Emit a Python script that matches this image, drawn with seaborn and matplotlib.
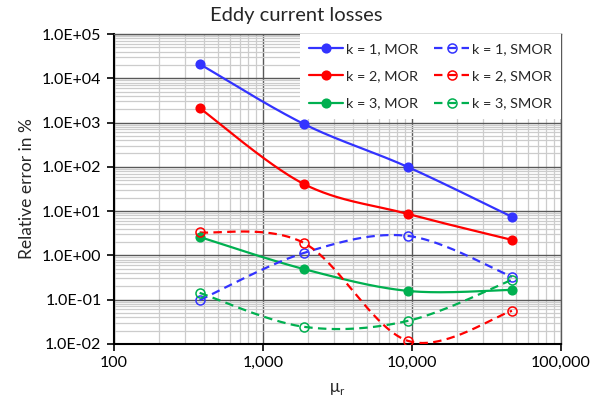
import numpy as np
import pandas as pd
import matplotlib
matplotlib.use("Agg")
import matplotlib.pyplot as plt
import seaborn as sns
from matplotlib.lines import Line2D
from matplotlib.ticker import FixedLocator, FuncFormatter, LogLocator, NullFormatter

# ---- data ----
mu_r = [376, 1880, 9400, 47000]
mor_k1 = [21000, 930, 99, 7.4]
mor_k2 = [2130, 41, 8.6, 2.23]
mor_k3 = [2.6, 0.49, 0.157, 0.166]
smor_k1 = [0.097, 1.13, 2.75, 0.326]
smor_k2 = [3.3, 1.91, 0.0117, 0.0557]
smor_k3 = [0.142, 0.0243, 0.033, 0.28]
labels = ["k = 1, MOR", "k = 2, MOR", "k = 3, MOR",
          "k = 1, SMOR", "k = 2, SMOR", "k = 3, SMOR"]
x_ticks = [100, 1000, 10000, 100000]
y_ticks = [1e-2, 1e-1, 1e0, 1e1, 1e2, 1e3, 1e4, 1e5]

BLUE, RED, GREEN = "#3333FF", "#FF0000", "#00B050"
series = [
    (mor_k1, BLUE, False), (mor_k2, RED, False), (mor_k3, GREEN, False),
    (smor_k1, BLUE, True), (smor_k2, RED, True), (smor_k3, GREEN, True),
]

sns.set_style("white")
plt.rcParams["font.family"] = ["Lato", "DejaVu Sans"]


def smooth(xs, ys, n=60):
    """Excel-like smoothed line (Catmull-Rom Bezier) in log-log space."""
    P = np.column_stack([np.log10(xs), np.log10(ys)])
    m = len(P)
    out = []
    for i in range(m - 1):
        p0 = P[max(i - 1, 0)]
        p1, p2 = P[i], P[i + 1]
        p3 = P[min(i + 2, m - 1)]
        c1 = p1 + (p2 - p0) / 6.0
        c2 = p2 - (p3 - p1) / 6.0
        t = np.linspace(0, 1, n)[:, None]
        seg = ((1 - t) ** 3) * p1 + 3 * ((1 - t) ** 2) * t * c1 + 3 * (1 - t) * t ** 2 * c2 + t ** 3 * p2
        out.append(seg if i == 0 else seg[1:])
    s = np.vstack(out)
    return 10 ** s[:, 0], 10 ** s[:, 1]


DASH = (0, (3.8, 2.4))

fig = plt.figure(figsize=(6.03, 4.05), dpi=100)
ax = fig.add_axes([0.189, 0.151, 0.741, 0.765])
ax.set_xscale("log")
ax.set_yscale("log")

handles = []
for (vals, col, dashed), lab in zip(series, labels):
    sx, sy = smooth(mu_r, vals)
    ls = DASH if dashed else "-"
    sns.lineplot(x=sx, y=sy, ax=ax, color=col, linestyle=ls, lw=1.6,
                 sort=False, estimator=None, legend=False, zorder=3)
    sns.lineplot(x=mu_r, y=vals, ax=ax, color=col, linestyle="", marker="o",
                 markersize=6.2 if not dashed else 6.5,
                 markerfacecolor=("none" if dashed else col),
                 markeredgecolor=col, markeredgewidth=1.1,
                 sort=False, estimator=None, legend=False, zorder=4)
    handles.append(Line2D([], [], color=col, linestyle=ls, lw=1.6, marker="o",
                          markersize=6.2 if not dashed else 6.5,
                          markerfacecolor=("none" if dashed else col),
                          markeredgecolor=col, markeredgewidth=1.1))

ax.set_xlim(100, 100000)
ax.set_ylim(1e-2, 1e5)
ax.xaxis.set_major_locator(FixedLocator(x_ticks))
ax.yaxis.set_major_locator(FixedLocator(y_ticks))
ax.xaxis.set_minor_locator(LogLocator(base=10, subs=np.arange(2, 10), numticks=20))
ax.yaxis.set_minor_locator(LogLocator(base=10, subs=np.arange(2, 10), numticks=20))
ax.xaxis.set_major_formatter(FuncFormatter(lambda v, p: f"{int(round(v)):,}"))
ax.yaxis.set_major_formatter(FuncFormatter(lambda v, p: f"{v:.1E}"))
ax.xaxis.set_minor_formatter(NullFormatter())
ax.yaxis.set_minor_formatter(NullFormatter())

ax.set_axisbelow(True)
ax.grid(which="minor", color="#cccccc", lw=0.9)
ax.grid(which="major", color="#595959", lw=1.0)
ax.tick_params(which="major", direction="out", length=5, width=1.2, colors="black",
               labelsize=11.5, pad=4, bottom=True, left=True)
ax.tick_params(which="minor", length=0)
for s in ["left", "bottom"]:
    ax.spines[s].set_color("black")
    ax.spines[s].set_linewidth(1.5)
for s in ["top", "right"]:
    ax.spines[s].set_color("#595959")
    ax.spines[s].set_linewidth(1.0)

fig.text(0.492, 0.962, "Eddy current losses", fontsize=14.5, ha="center", va="center")
ax.set_xlabel("μ$_{\\mathregular{r}}$", fontsize=12, labelpad=8)
ax.set_ylabel("Relative error in %", fontsize=12.5, labelpad=5)

leg = ax.legend(handles=handles, labels=labels, ncol=2, loc="upper right",
                bbox_to_anchor=(1.0, 1.0), borderaxespad=0.0, frameon=True,
                fancybox=False, framealpha=1.0, facecolor="white", edgecolor="none",
                fontsize=10.4, handlelength=2.4, handletextpad=0.2,
                columnspacing=1.1, labelspacing=1.05, borderpad=0.62)
leg.set_zorder(10)

fig.savefig("out.png", dpi=100)
